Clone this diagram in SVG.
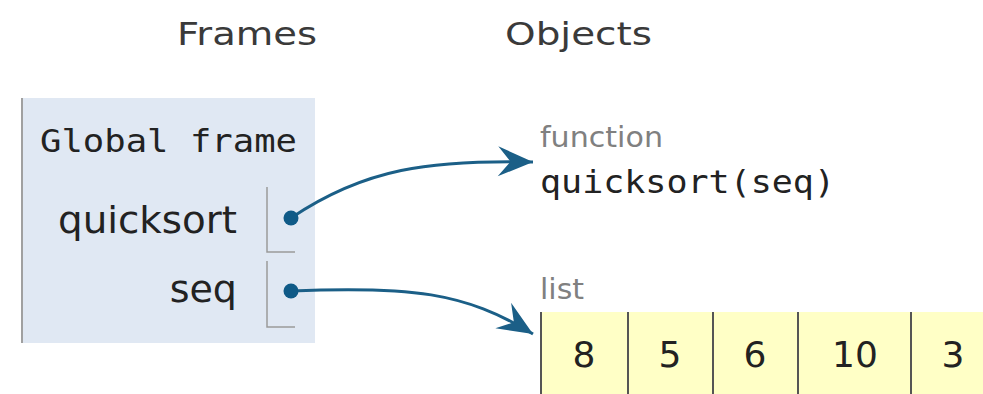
<svg xmlns="http://www.w3.org/2000/svg" width="983" height="394" viewBox="0 0 983 394">
  <style>
    .hdr { font-family: "DejaVu Sans", Verdana, sans-serif; font-size: 32px; fill: #3a3a3a; }
    .mono { font-family: "DejaVu Sans Mono", "Liberation Mono", monospace; font-size: 32px; fill: #222; }
    .var { font-family: "DejaVu Sans", Verdana, sans-serif; font-size: 38px; fill: #222; }
    .tag { font-family: "DejaVu Sans", Verdana, sans-serif; font-size: 28px; fill: #808080; }
    .num { font-family: "DejaVu Sans", Verdana, sans-serif; font-size: 36px; fill: #222; text-anchor: middle; }
    .bracket { fill: none; stroke: #9a9a9a; stroke-width: 1.5; }
    .cell { stroke: #555; stroke-width: 2; }
    .conn { fill: none; stroke: #1b5f87; stroke-width: 3; marker-end: url(#arrow); }
    .dot { fill: #0f5a87; }
  </style>
  <defs>
    <marker id="arrow" markerUnits="userSpaceOnUse" markerWidth="40" markerHeight="40" refX="0" refY="0" viewBox="-30 -15 32 30" orient="auto">
      <path d="M0,0 L-28,-12 L-18,0 L-28,12 Z" fill="#1b5f87"/>
    </marker>
  </defs>
  <rect width="983" height="394" fill="#ffffff"/>

  <text class="hdr" x="177" y="45" textLength="140" lengthAdjust="spacingAndGlyphs">Frames</text>
  <text class="hdr" x="505" y="45" textLength="147" lengthAdjust="spacingAndGlyphs">Objects</text>

  <g id="global-frame">
    <rect x="21" y="98" width="294" height="245" fill="#e0e8f3"/>
    <line x1="22" y1="98" x2="22" y2="343" stroke="#a0a0a0" stroke-width="2"/>
    <text class="mono" x="40" y="152" textLength="257" lengthAdjust="spacingAndGlyphs">Global frame</text>
    <text class="var" x="58" y="233" textLength="179" lengthAdjust="spacingAndGlyphs">quicksort</text>
    <path class="bracket" d="M267,187 V252 H295"/>
    <text class="var" x="237" y="302" text-anchor="end">seq</text>
    <path class="bracket" d="M267,261 V327 H295"/>
  </g>

  <g id="function-obj">
    <text class="tag" x="540" y="147" textLength="123" lengthAdjust="spacingAndGlyphs">function</text>
    <text class="mono" x="540" y="193" textLength="295" lengthAdjust="spacingAndGlyphs">quicksort(seq)</text>
  </g>

  <g id="list-obj">
    <text class="tag" x="540" y="299" textLength="44" lengthAdjust="spacingAndGlyphs">list</text>
    <rect x="540" y="312" width="443" height="82" fill="#ffffc6"/>
    <line class="cell" x1="541" y1="312" x2="541" y2="394"/>
    <line class="cell" x1="628" y1="312" x2="628" y2="394"/>
    <line class="cell" x1="713" y1="312" x2="713" y2="394"/>
    <line class="cell" x1="798" y1="312" x2="798" y2="394"/>
    <line class="cell" x1="911" y1="312" x2="911" y2="394"/>
    <text class="num" x="584" y="367">8</text>
    <text class="num" x="670" y="367">5</text>
    <text class="num" x="755" y="367">6</text>
    <text class="num" x="855" y="367">10</text>
    <text class="num" x="953" y="367">3</text>
  </g>

  <g id="connectors">
    <path class="conn" d="M291,218 C365,168 430,160 533,162"/>
    <path class="conn" d="M291,291 C410,286 465,292 533,334"/>
    <circle class="dot" cx="291" cy="218" r="7.5"/>
    <circle class="dot" cx="291" cy="291" r="7.5"/>
  </g>
</svg>
